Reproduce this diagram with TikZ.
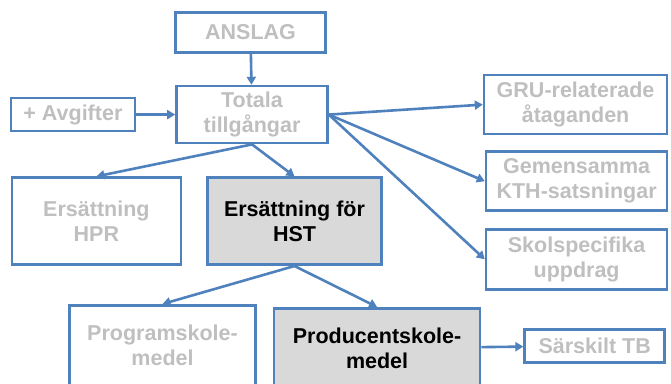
\documentclass[tikz,border=0pt]{standalone}
\usepackage{fontspec}
\setmainfont{Liberation Sans}
\usetikzlibrary{positioning,arrows.meta}
\definecolor{kthblue}{RGB}{79,129,189}
\definecolor{fadegrey}{RGB}{191,191,191}
\definecolor{hlgrey}{RGB}{217,217,217}

\begin{document}
\begin{tikzpicture}[
    x=1pt, y=-1pt,
    box/.style={rectangle, draw=kthblue, line width=2.6pt, inner sep=0pt, align=center, text=fadegrey, font=\fontsize{21.5}{25}\selectfont\bfseries},
    hl/.style={fill=hlgrey, text=black},
    arrow/.style={-{Triangle[length=8pt,width=9pt]}, line width=2.6pt, draw=kthblue}
]
    \useasboundingbox (0,0) rectangle (671,383);
    \node[box, minimum width=150pt, minimum height=40pt] (anslag) at (250.5,32.5) {ANSLAG};
    \node[box, minimum width=151pt, minimum height=57pt, below=31pt of anslag, xshift=1.5pt] (totala) {Totala\\tillgångar};
    \node[box, minimum width=124pt, minimum height=33pt, left=39pt of totala] (avgift) {+ Avgifter};
    \node[box, hl, minimum width=174pt, minimum height=87pt, below=32pt of totala, xshift=42.5pt] (hst) {Ersättning för\\HST};
    \node[box, minimum width=169pt, minimum height=87pt, left=24pt of hst] (hpr) {Ersättning\\HPR};
    \node[box, minimum width=186pt, minimum height=80pt, below=38pt of hst, xshift=-132pt] (prog) {Programskole-\\medel};
    \node[box, hl, minimum width=206pt, minimum height=80pt, right=16pt of prog, yshift=-3pt] (prod) {Producentskole-\\medel};
    \node[box, minimum width=140pt, minimum height=33pt, right=42pt of prod, yshift=2.5pt] (sartb) {Särskilt TB};
    \node[box, minimum width=183pt, minimum height=59pt, right=154pt of totala, yshift=10pt] (gru) {GRU-relaterade\\åtaganden};
    \node[box, minimum width=181pt, minimum height=59pt, below=15pt of gru, xshift=1pt] (gem) {Gemensamma\\KTH-satsningar};
    \node[box, minimum width=181pt, minimum height=60pt, below=16pt of gem] (skol) {Skolspecifika\\uppdrag};

    \draw[arrow] (anslag) -- (totala);
    \draw[arrow] (avgift) -- (totala);
    \draw[arrow] (totala.south) -- (hpr.north);
    \draw[arrow] (totala.south) -- (hst.north);
    \draw[arrow] (totala.east) -- (gru.west);
    \draw[arrow] (totala.east) -- (gem.west);
    \draw[arrow] (totala.east) -- (skol.west);
    \draw[arrow] (hst.south) -- (prog.north);
    \draw[arrow] (hst.south) -- (prod.north);
    \draw[arrow] (prod) -- (sartb);
\end{tikzpicture}
\end{document}
